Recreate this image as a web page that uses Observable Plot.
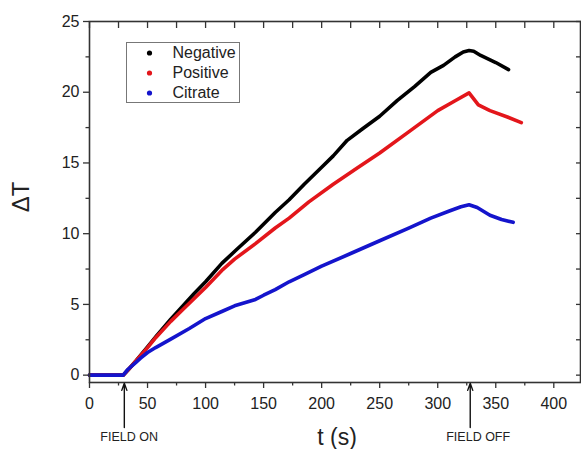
<!DOCTYPE html>
<html>
<head>
<meta charset="utf-8">
<script src="https://cdn.jsdelivr.net/npm/d3@7"></script>
<script src="https://cdn.jsdelivr.net/npm/@observablehq/plot@0.6"></script>
<style>
  html, body { margin: 0; padding: 0; background: #fff; }
  #chart { width: 581px; height: 449px; }
</style>
</head>
<body>
<div id="chart"></div>
<script>
// ---- data ----
const seriesNames = ["Negative", "Positive", "Citrate"];
const seriesColors = ["#000000", "#e3161b", "#1414cc"];

const negT = [0, 29, 33, 40, 50, 57, 70, 80, 90, 100, 114, 127, 143, 160, 172, 185, 200, 210, 222, 235, 250, 265, 280, 294, 305, 315, 322, 327, 331, 337, 350, 361];
const negV = [0, 0, 0.35, 1.0, 2.0, 2.7, 3.95, 4.85, 5.75, 6.6, 7.9, 8.9, 10.1, 11.5, 12.4, 13.5, 14.7, 15.5, 16.6, 17.4, 18.3, 19.4, 20.4, 21.4, 21.9, 22.5, 22.85, 22.95, 22.9, 22.6, 22.1, 21.6];

const posT = [0, 29, 33, 40, 50, 57, 70, 80, 90, 100, 114, 125, 143, 160, 172, 189, 210, 230, 250, 275, 300, 315, 327, 335, 345, 360, 372];
const posV = [0, 0, 0.35, 1.0, 1.95, 2.65, 3.8, 4.6, 5.4, 6.2, 7.4, 8.2, 9.3, 10.4, 11.1, 12.25, 13.5, 14.6, 15.7, 17.2, 18.7, 19.4, 19.95, 19.1, 18.7, 18.25, 17.85];

const citT = [0, 29, 33, 40, 44, 50, 57, 70, 86, 100, 114, 125, 143, 150, 160, 172, 185, 200, 225, 250, 275, 294, 310, 320, 327, 334, 345, 355, 365];
const citV = [0, 0, 0.4, 0.9, 1.2, 1.6, 1.95, 2.55, 3.3, 4.0, 4.5, 4.9, 5.35, 5.65, 6.05, 6.6, 7.1, 7.7, 8.6, 9.5, 10.4, 11.1, 11.6, 11.9, 12.05, 11.85, 11.3, 11.0, 10.8];

const xMajorTicks = [0, 50, 100, 150, 200, 250, 300, 350, 400];
const xMinorTicks = [25, 75, 125, 175, 225, 275, 325, 375, 425];
const yMajorTicks = [0, 5, 10, 15, 20, 25];
const yMinorTicks = [2.5, 7.5, 12.5, 17.5, 22.5];

const markerT = [30, 328];
const markerLabels = ["FIELD ON", "FIELD OFF"];

const xDomain = [0, 423];
const yDomain = [-0.52, 25];

// ---- build tables ----
const toRows = (ts, vs) => ts.map((t, i) => ({t, v: vs[i]}));
const seriesRows = [toRows(negT, negV), toRows(posT, posV), toRows(citT, citV)];
const markers = markerT.map((t, i) => ({t, label: markerLabels[i]}));

const font = "'Liberation Sans', Arial, Helvetica, sans-serif";
const axisColor = "#333";

const legendMarks = seriesNames.flatMap((name, i) => [
  Plot.dot([name], {frameAnchor: "top-left", dx: 60, dy: 31.5 + i * 20, r: 2.6, fill: seriesColors[i], stroke: "none"}),
  Plot.text([name], {frameAnchor: "top-left", dx: 83, dy: 31.5 + i * 20, text: d => d, textAnchor: "start", lineAnchor: "middle", fontSize: 16, fill: "#222"})
]);

const chart = Plot.plot({
  width: 581,
  height: 449,
  marginLeft: 89,
  marginRight: 1,
  marginTop: 21,
  marginBottom: 67,
  style: {fontFamily: font, fontSize: "16px", color: "#222", background: "#fff", overflow: "visible"},
  x: {domain: xDomain},
  y: {domain: yDomain},
  marks: [
    // data lines
    ...seriesRows.map((rows, i) => Plot.line(rows, {x: "t", y: "v", stroke: seriesColors[i], strokeWidth: 3.6, strokeLinejoin: "round", strokeLinecap: "round"})),
    // frame
    Plot.frame({stroke: axisColor, strokeWidth: 1.6}),
    // bottom axis
    Plot.axisX(xMajorTicks, {anchor: "bottom", tickSize: 6, tickPadding: 9, label: null, stroke: axisColor, strokeWidth: 1.3, fontSize: 16, fill: "#222"}),
    Plot.axisX(xMinorTicks.filter(d => d <= xDomain[1]), {anchor: "bottom", tickSize: 3.5, text: null, label: null, stroke: axisColor, strokeWidth: 1.3}),
    // top axis (inward ticks)
    Plot.axisX([...xMajorTicks, ...xMinorTicks].filter(d => d <= xDomain[1]), {anchor: "top", tickSize: 6, dy: 6, text: null, label: null, stroke: axisColor, strokeWidth: 1.3}),
    // left axis
    Plot.axisY(yMajorTicks, {anchor: "left", tickSize: 6, tickPadding: 4, label: null, stroke: axisColor, strokeWidth: 1.3, fontSize: 16, fill: "#222"}),
    Plot.axisY(yMinorTicks, {anchor: "left", tickSize: 3.5, text: null, label: null, stroke: axisColor, strokeWidth: 1.3}),
    // right axis (inward ticks)
    Plot.axisY([...yMajorTicks, ...yMinorTicks], {anchor: "right", tickSize: 5, dx: -5, text: null, label: null, stroke: axisColor, strokeWidth: 1.3}),
    // axis titles
    Plot.text(["ΔT"], {frameAnchor: "left", dx: -68, dy: -5, rotate: -90, text: d => d, textAnchor: "middle", lineAnchor: "middle", fontSize: 24, fill: "#222"}),
    Plot.text(["t (s)"], {frameAnchor: "bottom", dx: 2, dy: 55, text: d => d, textAnchor: "middle", lineAnchor: "middle", fontSize: 23, fill: "#222"}),
    // field on/off arrows and labels
    Plot.arrow(markers, {x1: "t", x2: "t", y1: -3.7, y2: -0.58, stroke: "#111", strokeWidth: 1.4, headLength: 8, headAngle: 40}),
    Plot.text(markers, {x: "t", y: -4.38, text: "label", textAnchor: "start", dx: -24, fontSize: 12.5, fill: "#222"}),
    // legend
    Plot.frame({insetLeft: 37, insetTop: 21, insetRight: 341, insetBottom: 280, stroke: "#777", strokeWidth: 1}),
    ...legendMarks
  ]
});

document.getElementById("chart").appendChild(chart);
</script>
</body>
</html>
